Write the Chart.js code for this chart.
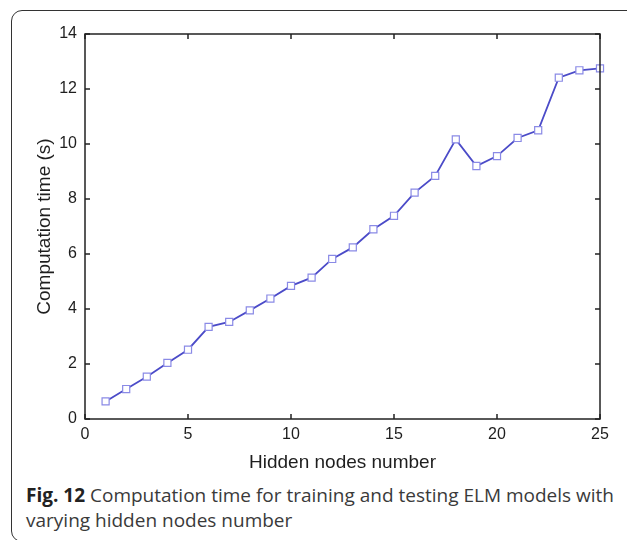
<!DOCTYPE html>
<html>
<head>
<meta charset="utf-8">
<script src="https://cdn.jsdelivr.net/npm/chart.js@4"></script>
<style>
  body { margin: 0; background: #fff; }
  #wrap { position: relative; width: 627px; height: 540px; overflow: hidden; }
  #frame {
    position: absolute; left: 11px; top: 10px; width: 640px; height: 530px;
    border: 1.5px solid #333; border-radius: 11px;
  }
  #plot { position: absolute; left: 0; top: 0; width: 627px; height: 480px; }
  #caption {
    position: absolute; left: 26px; top: 483px; width: 600px;
    font-family: "Open Sans", sans-serif; font-size: 19px; line-height: 25px; color: #3a3a3a;
  }
  #caption b { color: #222; }
</style>
</head>
<body>
<div id="wrap">
  <div id="frame"></div>
  <div id="plot"><canvas id="myChart"></canvas></div>
  <div id="caption"><b>Fig. 12</b> Computation time for training and testing ELM models with varying hidden nodes number</div>
</div>
<script>
// hidden nodes vs. computation time (s)
const nodes = [1, 2, 3, 4, 5, 6, 7, 8, 9, 10, 11, 12, 13, 14, 15, 16, 17, 18, 19, 20, 21, 22, 23, 24, 25];
const times = [0.64, 1.09, 1.54, 2.04, 2.52, 3.35, 3.53, 3.95, 4.38, 4.84, 5.14, 5.82, 6.24, 6.9, 7.39,
               8.23, 8.84, 10.17, 9.2, 9.56, 10.22, 10.5, 12.41, 12.68, 12.75];

const xTicks = [0, 5, 10, 15, 20, 25];
const yTicks = [0, 2, 4, 6, 8, 10, 12, 14];

let points = nodes.map((n, i) => ({x: n, y: times[i]}));

// box around the plot with short inward ticks on all four sides
const boxTicks = {
  id: 'boxTicks',
  afterDatasetsDraw(chart) {
    const {ctx, chartArea: a, scales} = chart;
    const len = 5;
    ctx.save();
    ctx.strokeStyle = '#222';
    ctx.lineWidth = 1.5;
    ctx.strokeRect(a.left, a.top, a.right - a.left, a.bottom - a.top);
    ctx.beginPath();
    xTicks.forEach(v => {
      const px = scales.x.getPixelForValue(v);
      ctx.moveTo(px, a.bottom); ctx.lineTo(px, a.bottom - len);
      ctx.moveTo(px, a.top); ctx.lineTo(px, a.top + len);
    });
    yTicks.forEach(v => {
      const py = scales.y.getPixelForValue(v);
      ctx.moveTo(a.left, py); ctx.lineTo(a.left + len, py);
      ctx.moveTo(a.right, py); ctx.lineTo(a.right - len, py);
    });
    ctx.stroke();
    ctx.restore();
  }
};

const tickFont = {family: '"Liberation Sans", Arial, sans-serif', size: 16};
const titleFont = {family: '"Liberation Sans", Arial, sans-serif', size: 19};

new Chart(document.getElementById('myChart'), {
  type: 'line',
  data: {
    datasets: [{
      data: points,
      borderColor: '#4b4bc8',
      borderWidth: 1.8,
      pointStyle: 'rect',
      pointRadius: 5,
      pointBorderWidth: 1.2,
      pointBorderColor: '#8a8ae6',
      pointBackgroundColor: '#fff',
      tension: 0,
      clip: false
    }]
  },
  options: {
    responsive: true,
    maintainAspectRatio: false,
    animation: false,
    events: [],
    layout: {padding: {top: 34, right: 27, left: 0, bottom: 0}},
    plugins: {legend: {display: false}, tooltip: {enabled: false}},
    scales: {
      x: {
        type: 'linear',
        min: 0, max: 25,
        afterBuildTicks: s => { s.ticks = xTicks.map(v => ({value: v})); },
        afterFit: s => { s.height = 61; },
        grid: {display: false, drawTicks: false},
        border: {display: false},
        ticks: {font: tickFont, color: '#1e1e1e', padding: 6},
        title: {display: true, text: 'Hidden nodes number', font: titleFont, color: '#1e1e1e',
                padding: {top: 0, bottom: 6}}
      },
      y: {
        min: 0, max: 14,
        afterBuildTicks: s => { s.ticks = yTicks.map(v => ({value: v})); },
        afterFit: s => { s.width = 85; },
        grid: {display: false, drawTicks: false},
        border: {display: false},
        ticks: {font: tickFont, color: '#1e1e1e', padding: 8},
        title: {display: true, text: 'Computation time (s)', font: titleFont, color: '#1e1e1e',
                padding: {top: 33, bottom: 0}}
      }
    }
  },
  plugins: [boxTicks]
});
</script>
</body>
</html>
